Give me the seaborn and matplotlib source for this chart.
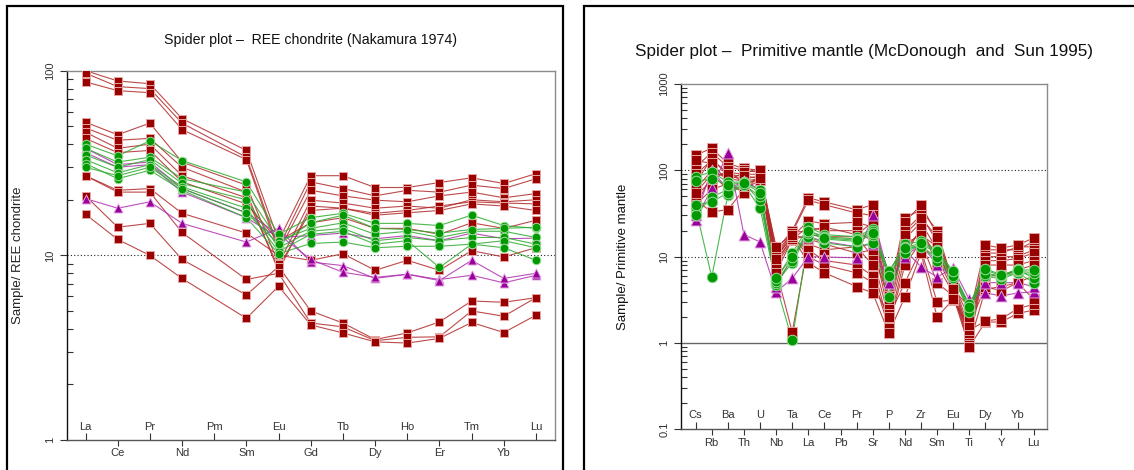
import numpy as np
import pandas as pd
import matplotlib
matplotlib.use("Agg")
import matplotlib.pyplot as plt
import seaborn as sns
from matplotlib.patches import Rectangle
from matplotlib.ticker import FixedLocator, FixedFormatter, LogLocator, NullFormatter, FuncFormatter

sns.set_theme(style="white")
plt.rcParams['font.family'] = ['Liberation Sans', 'DejaVu Sans']

N = None

# ---------------- REE normalised to chondrite (Nakamura 1974) ----------------
ree_elements = ["La", "Ce", "Pr", "Nd", "Pm", "Sm", "Eu", "Gd", "Tb", "Dy",
                "Ho", "Er", "Tm", "Yb", "Lu"]

ree_red = [
    [100, 88, 85, 55, N, 37, 12, 27, 27, 23.3, 23.3, 24.8, 26.3, 24.5, 27.7],
    [97, 82, 80, 52, N, 34, 11, 25, 23, 21, 22.5, 22, 24, 23, 26],
    [87, 78, 76, 48, N, 33, 10.5, 22.5, 21, 19.9, 19.5, 21, 22, 20.5, 21.6],
    [52.6, 45, 52, 32, N, 24, 9, 19.9, 19.2, 18, 18.5, 18, 20, 19.5, 20],
    [49, 42, 43, 30, N, 22, 8.2, 18.5, 18, 16.9, 17.5, 18.5, 19.5, 19.2, 19],
    [46.4, 38, 40, 27, N, 20.5, 8.6, 17.5, 18, 16.5, 17, 17.5, 19, 18.5, 17.5],
    [43, 36, 37, 25, N, 19, 12, 15, 16, 14, 14, 13, 15, 14, 15.5],
    [27, 22.5, 23, 16.9, N, 13.2, 10, 9.4, 10.2, 8.3, 9.4, 8.3, 10.6, 9.8, 11],
    [21, 14.2, 14.9, 9.5, N, 6.1, 8.7, 5.0, 4.3, 3.5, 3.8, 4.36, 5.66, 5.57, 5.9],
    [27, 22, 22, 13.3, N, 7.4, 8.0, 4.3, 4.1, 3.45, 3.6, 3.62, 5.0, 4.68, 5.9],
    [16.7, 12.2, 10, 7.5, N, 4.56, 6.8, 4.2, 3.8, 3.4, 3.35, 3.55, 4.33, 3.82, 4.74],
]
ree_purple = [
    [20.3, 18, 19.5, 14.9, N, 11.8, 14, 9.2, 8.8, 7.5, 7.9, 7.4, 7.8, 7.1, 7.8],
    [38, 31, 32, 23, N, 17, 13, 9.5, 8.1, 7.6, 7.9, 7.3, 9.4, 7.5, 8.0],
    [36, 30, 31, 22, N, 16, 12.5, 12.8, 13.2, 12.3, 12.8, 12, 13.2, 12.3, 12.4],
]
ree_green = [
    [40, 34.6, 41.7, 32.6, N, 25, 13, 16, 16.9, 14.9, 14.9, 14.5, 16.5, 14.5, 14],
    [38, 32, 34, 26, N, 22, 12, 14, 15, 13, 13.5, 12.5, 13.5, 13.5, 12.5],
    [35, 30, 33, 24.5, N, 20, 11, 13.5, 14, 12, 12.5, 12, 12.5, 12.5, 11.5],
    [33, 28, 31, 23.5, N, 18, 10.5, 13, 13.5, 11.5, 12, 8.6, 11.5, 12, 11],
    [31.4, 26, 28.9, 22.5, N, 16, 10.2, 11.6, 11.8, 11, 11.2, 11.2, 11.5, 11, 9.4],
    [30, 27, 30, 23, N, 17, 11.5, 15, 16.5, 14, 13.8, 13.2, 13.8, 14, 14.2],
]

# ---------------- Multi-element, primitive mantle (McDonough and Sun 1995) ----------------
pm_elements = ["Cs", "Rb", "Ba", "Th", "U", "Nb", "Ta", "La", "Ce", "Pb", "Pr",
               "Sr", "P", "Nd", "Zr", "Sm", "Eu", "Ti", "Dy", "Y", "Yb", "Lu"]

pm_red = [
    [150, 180, 120, 105, 100, 12, 20, 48, 43, N, 35, 40, 3.5, 28, 35, 20, 5.0, 1.5, 12, 12, 12, 15],
    [110, 160, 110, 100, 95, 11, 19, 45, 40, N, 32, 30, 3.0, 25, 40, 18, 4.8, 1.3, 11, 11, 13, 13],
    [90, 130, 95, 90, 90, 10, 17, 26, 24, N, 25, 22, 2.5, 20, 30, 15, 4.5, 1.2, 10, 10, 10, 12],
    [70, 140, 85, 80, 85, 9, 16, 22, 20, N, 20, 15, 2.2, 16, 25, 12, 4.3, 1.1, 9, 9, 9.5, 11],
    [60, 100, 80, 75, 80, 8, 15.6, 18, 17, N, 17, 10, 2.0, 12, 20, 10, 4.0, 1.0, 8, 8, 8, 9],
    [50, 77, 100, 70, 78, 7, 1.34, 14, 12, N, 13, 8, 1.6, 10, 22, 8, 3.8, 0.95, 4.2, 4.5, 5, 6],
    [45, 33, 35, 60, 77, 6.5, 16, 12, 9, N, 8, 6, 1.5, 8, 15, 5, 3.5, 0.9, 1.75, 1.75, 2.2, 2.4],
    [40, 60, 70, 55, 90, 13, 18, 10, 8, N, 6.5, 5, 2.0, 5, 12, 3, 3.15, 1.4, 1.8, 1.9, 2.5, 2.8],
    [38, 90, 60, 65, 85, 8.5, 17, 8.5, 6.5, N, 4.5, 3.8, 1.3, 3.4, 11, 2.0, 3.2, 1.6, 4.5, 4, 5, 3.2],
    [130, 120, 75, 95, 100, 10, 19, 20, 22, N, 18, 25, 2.8, 18, 28, 17, 4.7, 2.0, 13.6, 12.6, 13.6, 16.5],
    [55, 90, 90, 85, 82, 9.5, 18, 16, 14, N, 11, 12, 3.2, 14, 18, 13, 4.2, 2.6, 6, 6, 7, 8],
]
pm_purple = [
    [26.6, 62, 160, 18, 14.8, 3.9, 5.6, 10, 9.9, N, 9.7, 30, 6, 12, 7.6, 5.8, 7.4, 3.2, 3.8, 3.5, 3.8, 3.9],
    [30, 100, 60, 75, 60, 4.5, 10, 17, 15, N, 13, 14, 5, 10, 14, 8, 6, 2.8, 5, 5, 5, 4.5],
]
pm_green = [
    [84, 96, 73, 73, 59, 5.4, 11, 22, 18, N, 17, 21, 6.5, 14, 15, 12, 6.5, 2.8, 6.5, 5.8, 6.6, 6.1],
    [36.6, 5.8, 52, 68, 36.6, 4.7, 1.08, 17, 14.4, N, 13, 14.4, 3.4, 12, 13.6, 9, 5.6, 2.4, 6, 5.5, 6.5, 5],
    [30.5, 49, 60, 70, 45, 5, 8.5, 19, 16, N, 15, 18, 6, 11, 14, 11, 6.2, 2.5, 7, 6, 7.2, 5.6],
    [40, 43, 55, 68, 50, 5.2, 9, 20, 17, N, 16, 20, 6.8, 13, 13, 10, 6, 2.3, 6.3, 6, 6.8, 6.5],
    [75, 80, 68, 72, 55, 5.6, 10, 20, 16.5, N, 15.5, 19, 6, 12.5, 14.5, 11.5, 6.8, 2.6, 7.2, 6.2, 7, 7],
]

STYLE = {
    "red":    dict(face="#990000", edge="#e7a3a3", line="#b22a2a", marker="s"),
    "purple": dict(face="#990099", edge="#e2a3e2", line="#b030b0", marker="^"),
    "green":  dict(face="#009900", edge="#9fdc9f", line="#2eaa2e", marker="o"),
}


def long_frame(elements, groups):
    rows = []
    for gname, series in groups:
        for k, vals in enumerate(series):
            for i, v in enumerate(vals):
                if v is not None:
                    rows.append(dict(group=gname, sample=f"{gname}{k}", pos=i,
                                     element=elements[i], value=v))
    return pd.DataFrame(rows)


def draw_groups(ax, df, sizes):
    for gname in ["red", "purple", "green"]:
        st = STYLE[gname]
        sub = df[df["group"] == gname]
        sns.lineplot(data=sub, x="pos", y="value", units="sample", estimator=None,
                     sort=False, color=st["line"], lw=0.8, alpha=0.85, ax=ax,
                     legend=False, zorder=2)
        sns.scatterplot(data=sub, x="pos", y="value", marker=st["marker"],
                        s=sizes[gname], color=st["face"], edgecolor=st["edge"],
                        linewidth=0.7, ax=ax, legend=False, zorder=3)


def style_axes(ax, elements, xlim, ylim, up_pad):
    n = len(elements)
    up = list(range(0, n, 2))
    down = list(range(1, n, 2))
    ax.set_yscale("log")
    ax.set_xlim(*xlim)
    ax.set_ylim(*ylim)
    ax.xaxis.set_major_locator(FixedLocator(down))
    ax.xaxis.set_major_formatter(FixedFormatter([elements[i] for i in down]))
    ax.xaxis.set_minor_locator(FixedLocator(up))
    ax.xaxis.set_minor_formatter(FixedFormatter([elements[i] for i in up]))
    ax.tick_params(axis="x", which="major", direction="out", length=4, width=0.8,
                   pad=2, labelsize=8, bottom=True, colors="#333333")
    ax.tick_params(axis="x", which="minor", direction="in", length=5, width=0.8,
                   pad=up_pad, labelsize=8, bottom=True, colors="#333333")
    ax.yaxis.set_major_locator(LogLocator(base=10, numticks=10))
    ax.yaxis.set_major_formatter(FuncFormatter(lambda v, p: f"{v:g}"))
    ax.yaxis.set_minor_locator(LogLocator(base=10, subs=np.arange(2, 10), numticks=20))
    ax.yaxis.set_minor_formatter(NullFormatter())
    ax.tick_params(axis="y", which="major", direction="out", length=5, width=0.8,
                   labelsize=8, left=True, labelrotation=90, colors="#333333")
    ax.tick_params(axis="y", which="minor", direction="in", length=4, width=0.8,
                   left=True, colors="#333333")
    for lbl in ax.get_yticklabels():
        lbl.set_va("center")
    ax.set_xlabel("")
    ax.spines["left"].set_color("#111111")
    ax.spines["bottom"].set_color("#555555")
    for s in ("top", "right"):
        ax.spines[s].set_color("#8a8a8a")
    for s in ax.spines.values():
        s.set_linewidth(1.0)


W, H = 1134, 470
fig = plt.figure(figsize=(W / 100, H / 100), dpi=100)


def px_axes(x0, x1, ytop, ybot):
    return fig.add_axes([x0 / W, 1 - ybot / H, (x1 - x0) / W, (ybot - ytop) / H])


# panel frames
fig.add_artist(Rectangle((7 / W, -0.05), (563 - 7) / W, 1.05 - 6 / H, transform=fig.transFigure,
                         fill=False, lw=1.6, edgecolor="black"))
fig.add_artist(Rectangle((584 / W, -0.05), 0.5, 1.05 - 6 / H, transform=fig.transFigure,
                         fill=False, lw=1.6, edgecolor="black"))

# left panel: REE chondrite
ax1 = px_axes(67, 554.5, 70.7, 440)
ree_df = long_frame(ree_elements, [("red", ree_red), ("purple", ree_purple), ("green", ree_green)])
ax1.axhline(10, color="#222222", ls=(0, (1, 2)), lw=0.8, zorder=1)
draw_groups(ax1, ree_df, {"red": 34, "purple": 42, "green": 38})
style_axes(ax1, ree_elements, (-0.575, 14.575), (1, 100), up_pad=-13)
ax1.set_ylabel("Sample/ REE chondrite", fontsize=9.5, color="#222222")
ax1.yaxis.set_label_coords(-0.088, 0.5)
fig.text(311 / W, 1 - 40 / H, "Spider plot \u2013  REE chondrite (Nakamura 1974)",
         ha="center", va="center", fontsize=10.2, color="#111111")

# right panel: primitive mantle
ax2 = px_axes(681, 1047, 84, 429.3)
pm_df = long_frame(pm_elements, [("red", pm_red), ("purple", pm_purple), ("green", pm_green)])
ax2.axhline(100, color="#222222", ls=(0, (1, 2)), lw=0.8, zorder=1)
ax2.axhline(10, color="#222222", ls=(0, (1, 2)), lw=0.8, zorder=1)
ax2.axhline(1, color="#666666", ls="-", lw=1.0, zorder=1)
draw_groups(ax2, pm_df, {"red": 56, "purple": 62, "green": 58})
style_axes(ax2, pm_elements, (-0.91, 21.83), (0.1, 1000), up_pad=-14)
ax2.set_ylabel("Sample/ Primitive mantle", fontsize=9.5, color="#111111")
ax2.yaxis.set_label_coords(-0.142, 0.5)
fig.text(864 / W, 1 - 52 / H, "Spider plot \u2013  Primitive mantle (McDonough  and  Sun 1995)",
         ha="center", va="center", fontsize=12.3, color="#111111")

fig.savefig("out.png", dpi=100)
